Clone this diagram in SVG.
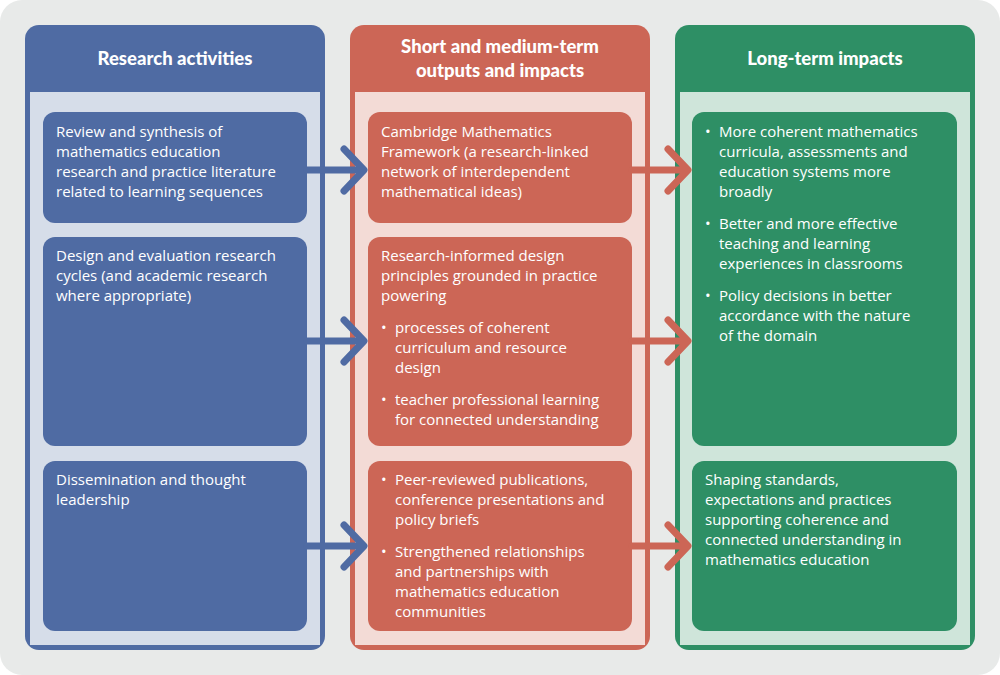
<svg xmlns="http://www.w3.org/2000/svg" width="1000" height="675" viewBox="0 0 1000 675">
<style>
.t{font-family:"Open Sans","Liberation Sans",sans-serif;font-size:15px;fill:#fff}
.h{font-family:Lato,"Liberation Sans",sans-serif;font-weight:900;font-size:18.5px;fill:#fff;text-anchor:middle}
.ab{stroke:#4f6ba3;stroke-width:7;fill:none;stroke-linecap:round;stroke-linejoin:round}
.ar{stroke:#cc6656;stroke-width:7;fill:none;stroke-linecap:round;stroke-linejoin:round}
</style>
<rect x="0" y="0" width="1000" height="675" rx="22" fill="#e8eae9"/>
<g id="col-research">
<rect x="25" y="25" width="300" height="625" rx="14" fill="#4f6ba3"/>
<rect x="30" y="92" width="290" height="553" fill="#d6dde9"/>
<text class="h" x="175" y="65">Research activities</text>
</g>
<g id="col-short">
<rect x="350" y="25" width="300" height="625" rx="14" fill="#cc6656"/>
<rect x="355" y="92" width="290" height="553" fill="#f3dbd6"/>
<text class="h" x="500" y="53">Short and medium-term</text>
<text class="h" x="500" y="77">outputs and impacts</text>
</g>
<g id="col-long">
<rect x="675" y="25" width="300" height="625" rx="14" fill="#2e8f65"/>
<rect x="680" y="92" width="290" height="553" fill="#cfe5da"/>
<text class="h" x="825" y="65">Long-term impacts</text>
</g>
<g id="b1"><rect x="43" y="112" width="264" height="111" rx="12" fill="#4f6ba3"/>
<text class="t" x="56" y="137">Review and synthesis of<tspan x="56" dy="20">mathematics education</tspan><tspan x="56" dy="20">research and practice literature</tspan><tspan x="56" dy="20">related to learning sequences</tspan></text></g>
<g id="b2"><rect x="43" y="237" width="264" height="209" rx="12" fill="#4f6ba3"/>
<text class="t" x="56" y="261">Design and evaluation research<tspan x="56" dy="20">cycles (and academic research</tspan><tspan x="56" dy="20">where appropriate)</tspan></text></g>
<g id="b3"><rect x="43" y="461" width="264" height="170" rx="12" fill="#4f6ba3"/>
<text class="t" x="56" y="485">Dissemination and thought<tspan x="56" dy="20">leadership</tspan></text></g>
<g id="r1"><rect x="368" y="112" width="264" height="111" rx="12" fill="#cc6656"/>
<text class="t" x="381" y="137">Cambridge Mathematics<tspan x="381" dy="20">Framework (a research-linked</tspan><tspan x="381" dy="20">network of interdependent</tspan><tspan x="381" dy="20">mathematical ideas)</tspan></text></g>
<g id="r2"><rect x="368" y="237" width="264" height="209" rx="12" fill="#cc6656"/>
<text class="t" x="381" y="261">Research-informed design<tspan x="381" dy="20">principles grounded in practice</tspan><tspan x="381" dy="20">powering</tspan></text>
<text class="t" x="381" y="333">•<tspan x="395">processes of coherent</tspan><tspan x="395" dy="20">curriculum and resource</tspan><tspan x="395" dy="20">design</tspan></text>
<text class="t" x="381" y="405">•<tspan x="395">teacher professional learning</tspan><tspan x="395" dy="20">for connected understanding</tspan></text></g>
<g id="r3"><rect x="368" y="461" width="264" height="170" rx="12" fill="#cc6656"/>
<text class="t" x="381" y="485">•<tspan x="395">Peer-reviewed publications,</tspan><tspan x="395" dy="20">conference presentations and</tspan><tspan x="395" dy="20">policy briefs</tspan></text>
<text class="t" x="381" y="557">•<tspan x="395">Strengthened relationships</tspan><tspan x="395" dy="20">and partnerships with</tspan><tspan x="395" dy="20">mathematics education</tspan><tspan x="395" dy="20">communities</tspan></text></g>
<g id="g1"><rect x="692" y="112" width="265" height="334" rx="12" fill="#2e8f65"/>
<text class="t" x="705" y="137">•<tspan x="719">More coherent mathematics</tspan><tspan x="719" dy="20">curricula, assessments and</tspan><tspan x="719" dy="20">education systems more</tspan><tspan x="719" dy="20">broadly</tspan></text>
<text class="t" x="705" y="229">•<tspan x="719">Better and more effective</tspan><tspan x="719" dy="20">teaching and learning</tspan><tspan x="719" dy="20">experiences in classrooms</tspan></text>
<text class="t" x="705" y="301">•<tspan x="719">Policy decisions in better</tspan><tspan x="719" dy="20">accordance with the nature</tspan><tspan x="719" dy="20">of the domain</tspan></text></g>
<g id="g2"><rect x="692" y="461" width="265" height="170" rx="12" fill="#2e8f65"/>
<text class="t" x="705" y="485">Shaping standards,<tspan x="705" dy="20">expectations and practices</tspan><tspan x="705" dy="20">supporting coherence and</tspan><tspan x="705" dy="20">connected understanding in</tspan><tspan x="705" dy="20">mathematics education</tspan></text></g>
<g id="connectors">
<path class="ab" d="M307 170H362M344 149L364 170L344 191"/>
<path class="ab" d="M307 341H362M344 320L364 341L344 362"/>
<path class="ab" d="M307 546H362M344 525L364 546L344 567"/>
<path class="ar" d="M632 170H686M668 149L688 170L668 191"/>
<path class="ar" d="M632 341H686M668 320L688 341L668 362"/>
<path class="ar" d="M632 546H686M668 525L688 546L668 567"/>
</g>
</svg>
